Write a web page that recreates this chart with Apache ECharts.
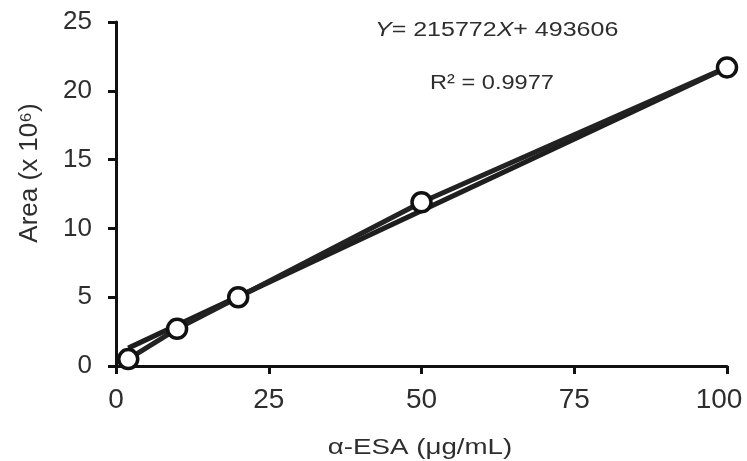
<!DOCTYPE html>
<html>
<head>
<meta charset="utf-8">
<script src="https://cdn.jsdelivr.net/npm/echarts@6/dist/echarts.min.js"></script>
<style>
  html, body { margin: 0; padding: 0; background: #fff; }
  #main { width: 747px; height: 461px; }
</style>
</head>
<body>
<div id="main"></div>
<script>
// calibration points, concentration (ug/mL) vs area (x 10^6)
var concX = [2, 10, 20, 50, 100];
var areaY = [0.5, 2.7, 5.0, 11.9, 21.7];
// regression line endpoints
var fitX = [2, 100];
var fitY = [1.3, 21.7];
var xTicks = [0, 25, 50, 75, 100];
var yTicks = [0, 5, 10, 15, 20, 25];

var FONT = 'Liberation Sans, Arial, sans-serif';
var ink = '#111';
var txt = '#2e2e2e';

var chart = echarts.init(document.getElementById('main'));

var pts = concX.map(function(x, i){ return [x, areaY[i]]; });
var fit = fitX.map(function(x, i){ return [x, fitY[i]]; });

var option = {
    backgroundColor: '#fff',
    animation: false,
    grid: { left: 116, right: 20, top: 22, bottom: 95, outerBoundsMode: 'none', containLabel: false },
    xAxis: {
        type: 'value',
        min: xTicks[0], max: xTicks[xTicks.length - 1], interval: 25,
        axisLine: { lineStyle: { color: ink, width: 3 } },
        axisTick: { length: 8, lineStyle: { color: ink, width: 3 } },
        axisLabel: {
            fontFamily: FONT, fontSize: 28, color: txt, margin: 20,
            formatter: function(v){ return v === 100 ? '{m|100}' : String(v); },
            rich: { m: { fontFamily: FONT, fontSize: 28, color: txt, padding: [0, 16, 0, 0] } }
        },
        splitLine: { show: false }
    },
    yAxis: {
        type: 'value',
        min: yTicks[0], max: yTicks[yTicks.length - 1], interval: 5,
        axisLine: { show: true, lineStyle: { color: ink, width: 3 } },
        axisTick: { show: true, length: 8, lineStyle: { color: ink, width: 3 } },
        axisLabel: { fontFamily: FONT, fontSize: 26, color: txt, margin: 24 },
        splitLine: { show: false }
    },
    series: [
        {
            // regression line
            type: 'line',
            data: fit,
            symbol: 'none',
            lineStyle: { color: '#1e1e1e', width: 5 },
            z: 2
        },
        {
            type: 'line',
            data: pts,
            symbol: 'circle',
            symbolSize: 19,
            itemStyle: { color: '#fff', borderColor: ink, borderWidth: 3.5 },
            lineStyle: { color: '#222', width: 5 },
            z: 3
        }
    ],
    graphic: [
        {
            type: 'text',
            x: 375, y: 20,
            scaleX: 1.25,
            style: {
                text: '{i|Y}= 215772{i|X}+ 493606',
                font: '20px ' + FONT,
                fill: txt,
                rich: { i: { fontStyle: 'italic', fontSize: 20, fontFamily: FONT, fill: txt } }
            }
        },
        {
            type: 'text',
            x: 430, y: 73,
            scaleX: 1.18,
            style: { text: 'R² = 0.9977', font: '20px ' + FONT, fill: txt }
        },
        {
            // x axis title
            type: 'text',
            x: 420, y: 448,
            scaleX: 1.26,
            style: { text: 'α-ESA (μg/mL)', font: '22px ' + FONT, fill: txt, align: 'center', verticalAlign: 'middle' }
        },
        {
            // y axis title
            type: 'text',
            x: 30, y: 173,
            rotation: Math.PI / 2,
            style: { text: 'Area (x 10⁶)', font: '26px ' + FONT, fill: txt, align: 'center', verticalAlign: 'middle' }
        }
    ]
};

chart.setOption(option);
</script>
</body>
</html>
